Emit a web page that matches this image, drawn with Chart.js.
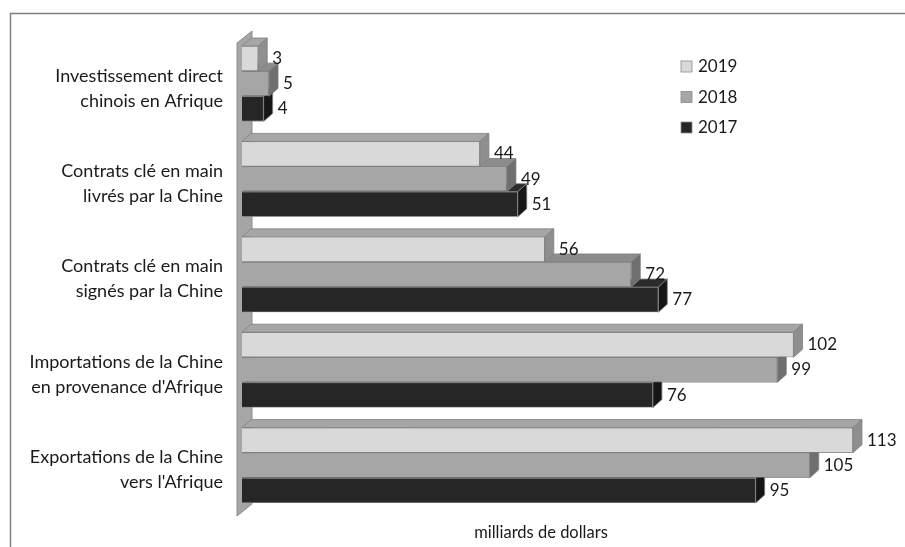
<!DOCTYPE html>
<html>
<head>
<meta charset="utf-8">
<script src="https://cdn.jsdelivr.net/npm/chart.js@4.4.1/dist/chart.umd.min.js"></script>
<style>
  html, body { margin: 0; padding: 0; background: #fff; }
  #wrap { width: 905px; height: 547px; position: relative; }
</style>
</head>
<body>
<div id="wrap"><canvas id="chart"></canvas></div>
<script>
const categories = [
    ["Investissement direct", "chinois en Afrique"],
    ["Contrats clé en main", "livrés par la Chine"],
    ["Contrats clé en main", "signés par la Chine"],
    ["Importations de la Chine", "en provenance d'Afrique"],
    ["Exportations de la Chine", "vers l'Afrique"]
];
const seriesNames = ["2019", "2018", "2017"];
const values2019 = [3, 44, 56, 102, 113];
const values2018 = [5, 49, 72, 99, 105];
const values2017 = [4, 51, 77, 76, 95];
const axisTitle = "milliards de dollars";

// front, top, side face colours per series
const faces = [
    { front: "#d9d9d9", top: "#a6a6a6", side: "#8f8f8f" },
    { front: "#a6a6a6", top: "#8c8c8c", side: "#6f6f6f" },
    { front: "#262626", top: "#2b2b2b", side: "#161616" }
];
const DX = 9, DY = 8;
const FONT = "Lato, 'Open Sans', sans-serif";

/**
 * Outer frame and back wall.
 */
const backdrop = {
    id: "backdrop",
    beforeDraw(chart) {
        const ctx = chart.ctx;
        ctx.save();
        ctx.strokeStyle = "#7f7f7f";
        ctx.lineWidth = 1.5;
        ctx.strokeRect(10.5, 13.5, 1200, 1200);
        ctx.restore();
    },
    beforeDatasetsDraw(chart) {
        const a = chart.chartArea;
        const ctx = chart.ctx;
        ctx.save();
        ctx.fillStyle = "#a6a6a6";
        ctx.strokeStyle = "#8c8c8c";
        ctx.lineWidth = 1;
        ctx.beginPath();
        ctx.moveTo(a.left - 5, a.top + 7);
        ctx.lineTo(a.left + 10, a.top - 5);
        ctx.lineTo(a.left + 10, a.bottom - 9);
        ctx.lineTo(a.left - 5, a.bottom + 3);
        ctx.closePath();
        ctx.fill();
        ctx.stroke();
        ctx.restore();
    }
};

/**
 * Redraw the bars with a top and side face, back to front,
 * then put the value next to each bar.
 */
const bars3d = {
    id: "bars3d",
    afterDatasetsDraw(chart) {
        const ctx = chart.ctx;
        ctx.save();
        for (let d = chart.data.datasets.length - 1; d >= 0; d--) {
            const meta = chart.getDatasetMeta(d);
            meta.data.forEach(function(bar) {
                const p = bar.getProps(["x", "y", "base", "height"], true);
                const top = p.y - p.height / 2;
                const bottom = p.y + p.height / 2;
                ctx.lineWidth = 0.8;
                ctx.strokeStyle = "#7f7f7f";
                ctx.fillStyle = faces[d].top;
                ctx.beginPath();
                ctx.moveTo(p.base, top);
                ctx.lineTo(p.base + DX, top - DY);
                ctx.lineTo(p.x + DX, top - DY);
                ctx.lineTo(p.x, top);
                ctx.closePath();
                ctx.fill();
                ctx.stroke();
                ctx.fillStyle = faces[d].side;
                ctx.beginPath();
                ctx.moveTo(p.x, top);
                ctx.lineTo(p.x + DX, top - DY);
                ctx.lineTo(p.x + DX, bottom - DY);
                ctx.lineTo(p.x, bottom);
                ctx.closePath();
                ctx.fill();
                ctx.stroke();
                bar.draw(ctx);
            });
        }
        ctx.fillStyle = "#1a1a1a";
        ctx.font = "17px " + FONT;
        ctx.textBaseline = "middle";
        ctx.textAlign = "left";
        chart.data.datasets.forEach(function(ds, d) {
            chart.getDatasetMeta(d).data.forEach(function(bar, i) {
                ctx.fillText(String(ds.data[i]), bar.x + DX + 5, bar.y);
            });
        });
        ctx.restore();
    }
};

/**
 * Legend drawn inside the plot, top right.
 */
const sideLegend = {
    id: "sideLegend",
    afterDraw(chart) {
        const ctx = chart.ctx;
        ctx.save();
        ctx.font = "17px " + FONT;
        ctx.textBaseline = "middle";
        chart.data.datasets.forEach(function(ds, d) {
            const y = 67 + d * 30.5;
            ctx.fillStyle = faces[d].front;
            ctx.strokeStyle = "#8c8c8c";
            ctx.lineWidth = 0.8;
            ctx.fillRect(681, y - 6, 11, 11);
            ctx.strokeRect(681, y - 6, 11, 11);
            ctx.fillStyle = "#1a1a1a";
            ctx.fillText(ds.label, 698, y);
        });
        ctx.restore();
    }
};

const seriesValues = [values2019, values2018, values2017];

new Chart(document.getElementById("chart"), {
    type: "bar",
    data: {
        labels: categories,
        datasets: seriesNames.map(function(name, d) {
            return {
                label: name,
                data: seriesValues[d],
                backgroundColor: faces[d].front,
                borderColor: "#7f7f7f",
                borderWidth: 0.8,
                categoryPercentage: 0.79,
                barPercentage: 1,
                clip: false
            };
        })
    },
    options: {
        indexAxis: "y",
        responsive: true,
        maintainAspectRatio: false,
        animation: false,
        layout: { padding: { top: 36, right: 65, bottom: 0, left: 0 } },
        plugins: {
            legend: { display: false },
            tooltip: { enabled: false }
        },
        scales: {
            x: {
                min: 0,
                max: 110.6,
                grid: { display: false, drawTicks: false },
                border: { display: false },
                ticks: { display: false },
                title: {
                    display: true,
                    text: axisTitle,
                    color: "#1a1a1a",
                    font: { family: FONT, size: 16.5 },
                    padding: { top: 0, bottom: 4 }
                },
                afterFit(scale) { scale.height = 34; }
            },
            y: {
                grid: { display: false, drawTicks: false },
                border: { display: false },
                ticks: {
                    color: "#1a1a1a",
                    font: { family: FONT, size: 18, lineHeight: 1.39 },
                    padding: 19,
                    labelOffset: 4.5
                },
                afterFit(scale) {
                    scale.width = 242;
                    scale.paddingTop = 0;
                    scale.paddingBottom = 0;
                }
            }
        }
    },
    plugins: [backdrop, bars3d, sideLegend]
});
</script>
</body>
</html>
